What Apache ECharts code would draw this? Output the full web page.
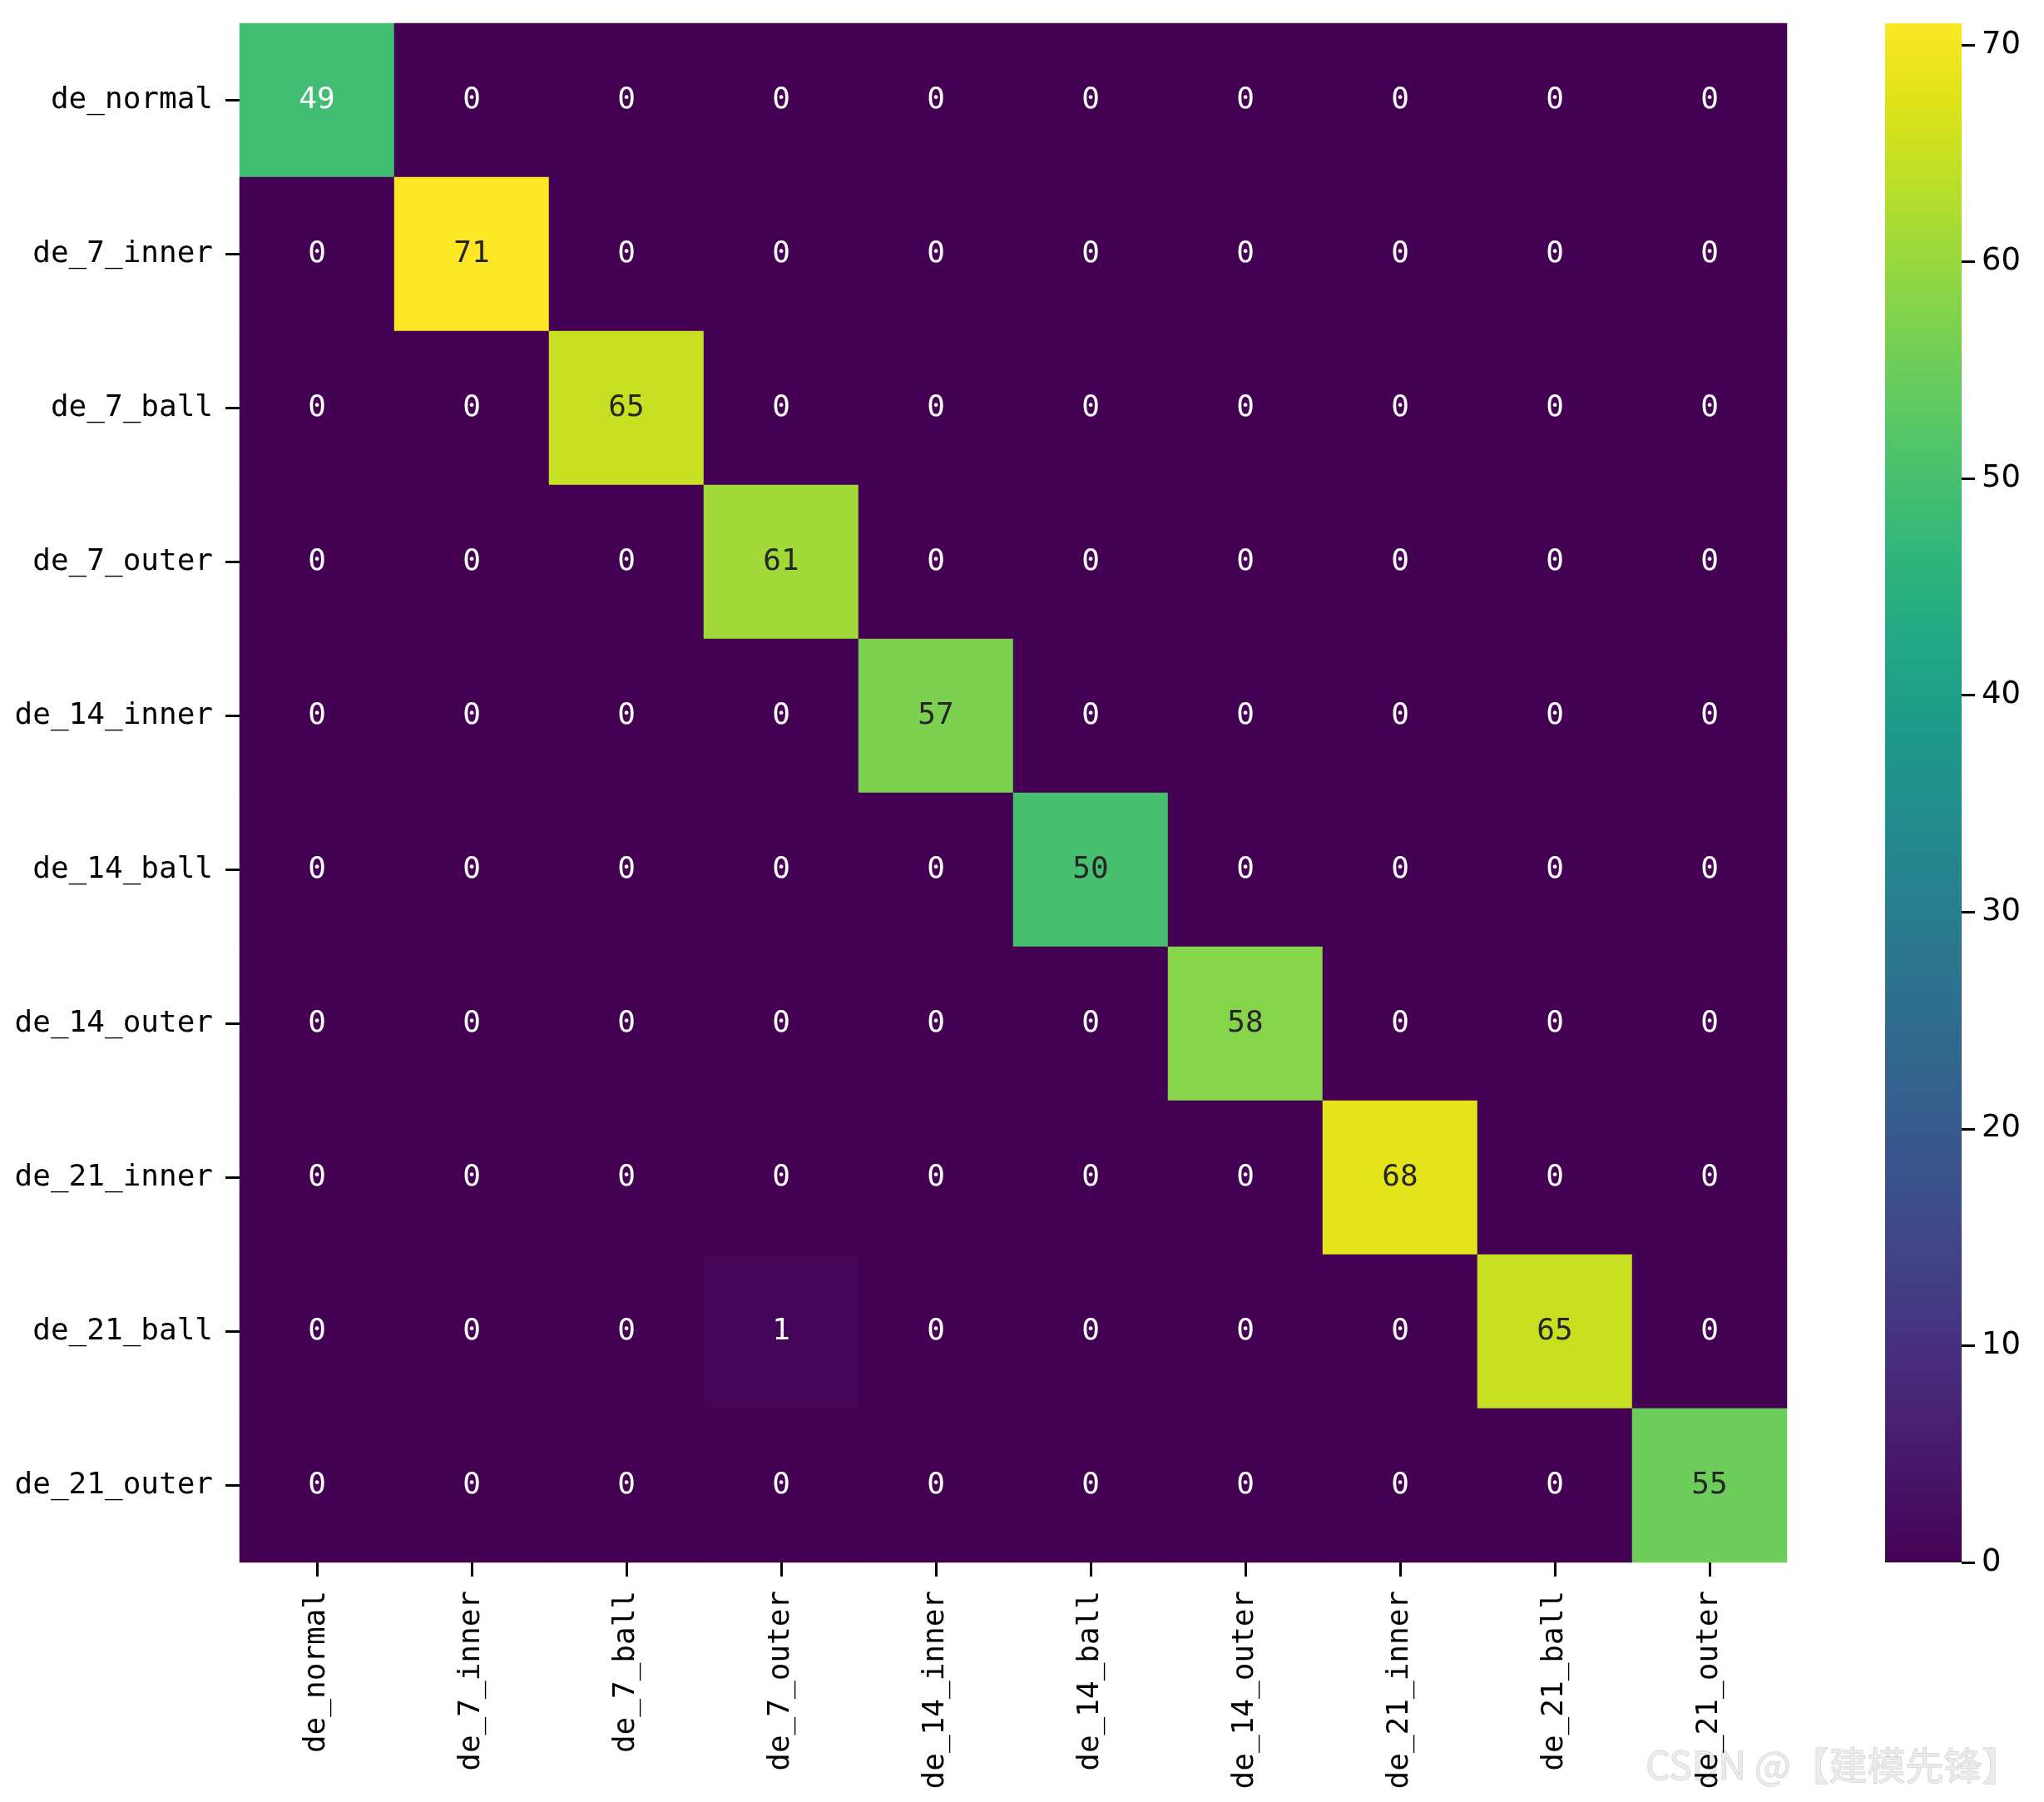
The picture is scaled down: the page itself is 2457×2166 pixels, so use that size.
<!DOCTYPE html>
<html>
<head>
    <meta charset="UTF-8">
    <title>confusion matrix</title>
    <script src="https://cdn.jsdelivr.net/npm/echarts@6/dist/echarts.min.js"></script>
    <style>
        *{margin:0;padding:0}
        html,body{width:100%;height:100%;background:#fff}
        #main{width:2457px;height:2166px}
    </style>
</head>
<body>
<div id="main"></div>
<script type="text/javascript">
    // 类别
    var labels = ['de_normal', 'de_7_inner', 'de_7_ball', 'de_7_outer', 'de_14_inner',
                  'de_14_ball', 'de_14_outer', 'de_21_inner', 'de_21_ball', 'de_21_outer'];
    // 混淆矩阵, 行 = 真实类别, 列 = 预测类别
    var matrix = [
        [49, 0, 0, 0, 0, 0, 0, 0, 0, 0],
        [0, 71, 0, 0, 0, 0, 0, 0, 0, 0],
        [0, 0, 65, 0, 0, 0, 0, 0, 0, 0],
        [0, 0, 0, 61, 0, 0, 0, 0, 0, 0],
        [0, 0, 0, 0, 57, 0, 0, 0, 0, 0],
        [0, 0, 0, 0, 0, 50, 0, 0, 0, 0],
        [0, 0, 0, 0, 0, 0, 58, 0, 0, 0],
        [0, 0, 0, 0, 0, 0, 0, 68, 0, 0],
        [0, 0, 0, 1, 0, 0, 0, 0, 65, 0],
        [0, 0, 0, 0, 0, 0, 0, 0, 0, 55]
    ];
    // 色条刻度
    var barTicks = [0, 10, 20, 30, 40, 50, 60, 70];
    var vMin = 0, vMax = 71;

    // viridis
    var viridis = ['#440154', '#471365', '#482475', '#463480', '#414487', '#3b528b', '#355f8d',
                   '#2f6c8e', '#2a788e', '#25848e', '#21918c', '#1e9c89', '#22a884', '#2fb47c',
                   '#44bf70', '#5ec962', '#7ad151', '#9bd93c', '#bddf26', '#dfe318', '#fde725'];

    var monoFont = '"DejaVu Sans Mono", monospace';

    var cells = [];
    for (var r = 0; r < matrix.length; r++) {
        for (var c = 0; c < matrix[r].length; c++) {
            var v = matrix[r][c];
            cells.push({
                value: [c, r, v],
                label: {color: v >= 50 ? '#262626' : '#ffffff'}
            });
        }
    }

    // 色条渐变 (从下到上)
    var gradStops = viridis.map(function (col, i) {
        return {offset: i / (viridis.length - 1), color: col};
    });

    var myChart = echarts.init(document.getElementById('main'));

    var option = {
        animation: false,
        backgroundColor: '#ffffff',
        grid: [
            {left: 288, top: 28, width: 1860, height: 1850},
            {left: 2266, top: 28, width: 92, height: 1850}
        ],
        xAxis: [
            {
                type: 'category',
                gridIndex: 0,
                data: labels,
                splitArea: {show: false},
                axisLine: {show: false},
                axisTick: {show: true, alignWithLabel: true, length: 17, lineStyle: {color: '#000', width: 3}},
                axisLabel: {rotate: 90, margin: 34, color: '#000', fontSize: 36, fontFamily: monoFont}
            },
            {type: 'category', gridIndex: 1, data: [''], show: false}
        ],
        yAxis: [
            {
                type: 'category',
                gridIndex: 0,
                inverse: true,
                data: labels,
                axisLine: {show: false},
                axisTick: {show: true, alignWithLabel: true, length: 17, lineStyle: {color: '#000', width: 3}},
                axisLabel: {margin: 32, color: '#000', fontSize: 36, fontFamily: monoFont}
            },
            {
                type: 'value',
                gridIndex: 1,
                position: 'right',
                min: vMin,
                max: vMax,
                interval: 10,
                splitLine: {show: false},
                axisLine: {show: false},
                axisTick: {show: true, length: 16, customValues: barTicks, lineStyle: {color: '#000', width: 3}},
                axisLabel: {margin: 24, customValues: barTicks, color: '#000', fontSize: 37, fontFamily: 'DejaVu Sans'}
            }
        ],
        visualMap: {
            type: 'continuous',
            show: false,
            seriesIndex: 0,
            min: vMin,
            max: vMax,
            inRange: {color: viridis}
        },
        graphic: [{
            type: 'text',
            right: 28,
            top: 2098,
            style: {
                text: 'CSDN @【建模先锋】',
                font: '46px "Noto Sans CJK SC"',
                fill: '#ebebeb',
                stroke: '#c4c4c4',
                lineWidth: 1
            }
        }],
        series: [
            {
                type: 'heatmap',
                xAxisIndex: 0,
                yAxisIndex: 0,
                data: cells,
                itemStyle: {borderWidth: 0},
                emphasis: {disabled: true},
                label: {
                    show: true,
                    fontSize: 36,
                    fontFamily: monoFont,
                    formatter: function (p) { return p.value[2]; }
                }
            },
            {
                // 色条
                type: 'bar',
                xAxisIndex: 1,
                yAxisIndex: 1,
                data: [vMax],
                barWidth: '100%',
                silent: true,
                itemStyle: {
                    color: new echarts.graphic.LinearGradient(0, 1, 0, 0, gradStops)
                }
            }
        ]
    };

    myChart.setOption(option);
</script>
</body>
</html>
